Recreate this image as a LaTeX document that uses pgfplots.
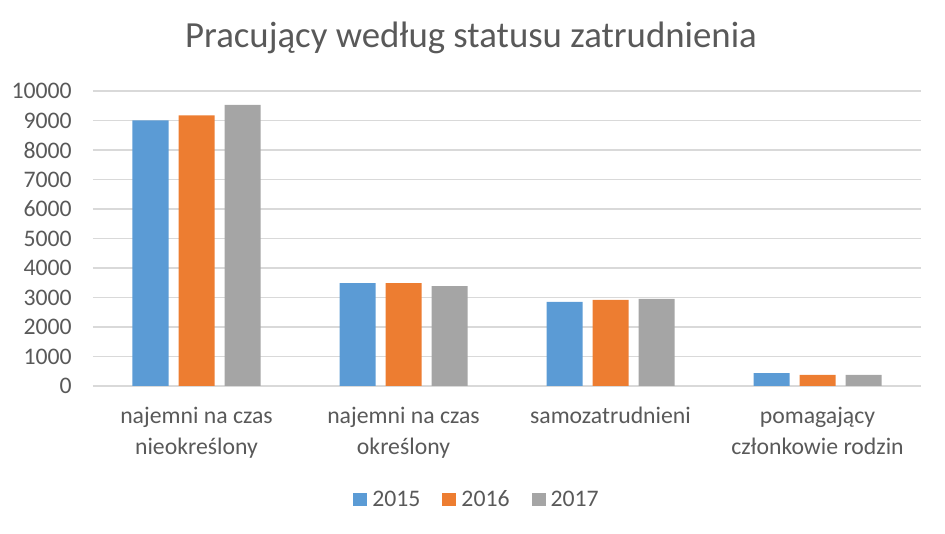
\documentclass[border=0pt]{standalone}
\usepackage{pgfplots}
\pgfplotsset{compat=1.18}
\usepackage{fontspec}
\setmainfont{Carlito}
\definecolor{c15}{HTML}{5B9BD5}
\definecolor{c16}{HTML}{ED7D31}
\definecolor{c17}{HTML}{A5A5A5}
\definecolor{txt}{HTML}{595959}
\definecolor{gridc}{HTML}{D9D9D9}
\begin{document}
\begin{tikzpicture}
\path[use as bounding box] (0,0) rectangle (708.75pt,400.5pt);
\begin{axis}[
  at={(69.75pt,111pt)}, anchor=south west,
  scale only axis, width=621pt, height=221.25pt,
  ybar=7.5pt, bar width=27pt,
  xmin=-0.5, xmax=3.5, ymin=0, ymax=10000,
  enlargelimits=false,
  scaled y ticks=false,
  xtick={0,1,2,3},
  xticklabels={{\strut najemni na czas\\nieokreślony},{\strut najemni na czas\\określony},{\strut samozatrudnieni},{\strut pomagający\\członkowie rodzin}},
  ytick={0,1000,...,10000},
  major tick length=0pt,
  axis x line=bottom, axis y line=left,
  x axis line style={-, draw=gridc, line width=1.1pt},
  y axis line style={draw=none},
  ymajorgrids, major grid style={draw=gridc, line width=1.1pt},
  /pgf/number format/assume math mode=true,
  /pgf/number format/set thousands separator={},
  tick label style={font=\fontsize{17.8pt}{23.25pt}\selectfont, text=txt},
  yticklabel style={anchor=east, inner sep=0pt, xshift=-15.75pt},
  xticklabel style={anchor=north, align=center, inner sep=0pt, yshift=-11.5pt},
  legend columns=3,
  legend style={at={(0.4626,-0.3864)}, anchor=center, draw=none, fill=none,
    font=\fontsize{17.8pt}{23.25pt}\selectfont, text=txt,
    nodes={inner xsep=0pt, inner ysep=0pt},
    /tikz/every odd column/.append style={column sep=3.75pt},
    /tikz/every even column/.append style={column sep=16.5pt}},
  legend image code/.code={\fill[#1] (0pt,-4.875pt) rectangle (10.5pt,4.875pt);},
]
\addplot[fill=c15, draw=none] coordinates {(0,9000) (1,3490) (2,2850) (3,440)};
\addplot[fill=c16, draw=none] coordinates {(0,9170) (1,3490) (2,2920) (3,375)};
\addplot[fill=c17, draw=none] coordinates {(0,9530) (1,3385) (2,2955) (3,375)};
\legend{2015,2016,2017}
\end{axis}
\node[anchor=base, font=\fontsize{27.6pt}{33pt}\selectfont, text=txt] at (353.25pt,364.5pt) {Pracujący według statusu zatrudnienia};
\end{tikzpicture}
\end{document}
